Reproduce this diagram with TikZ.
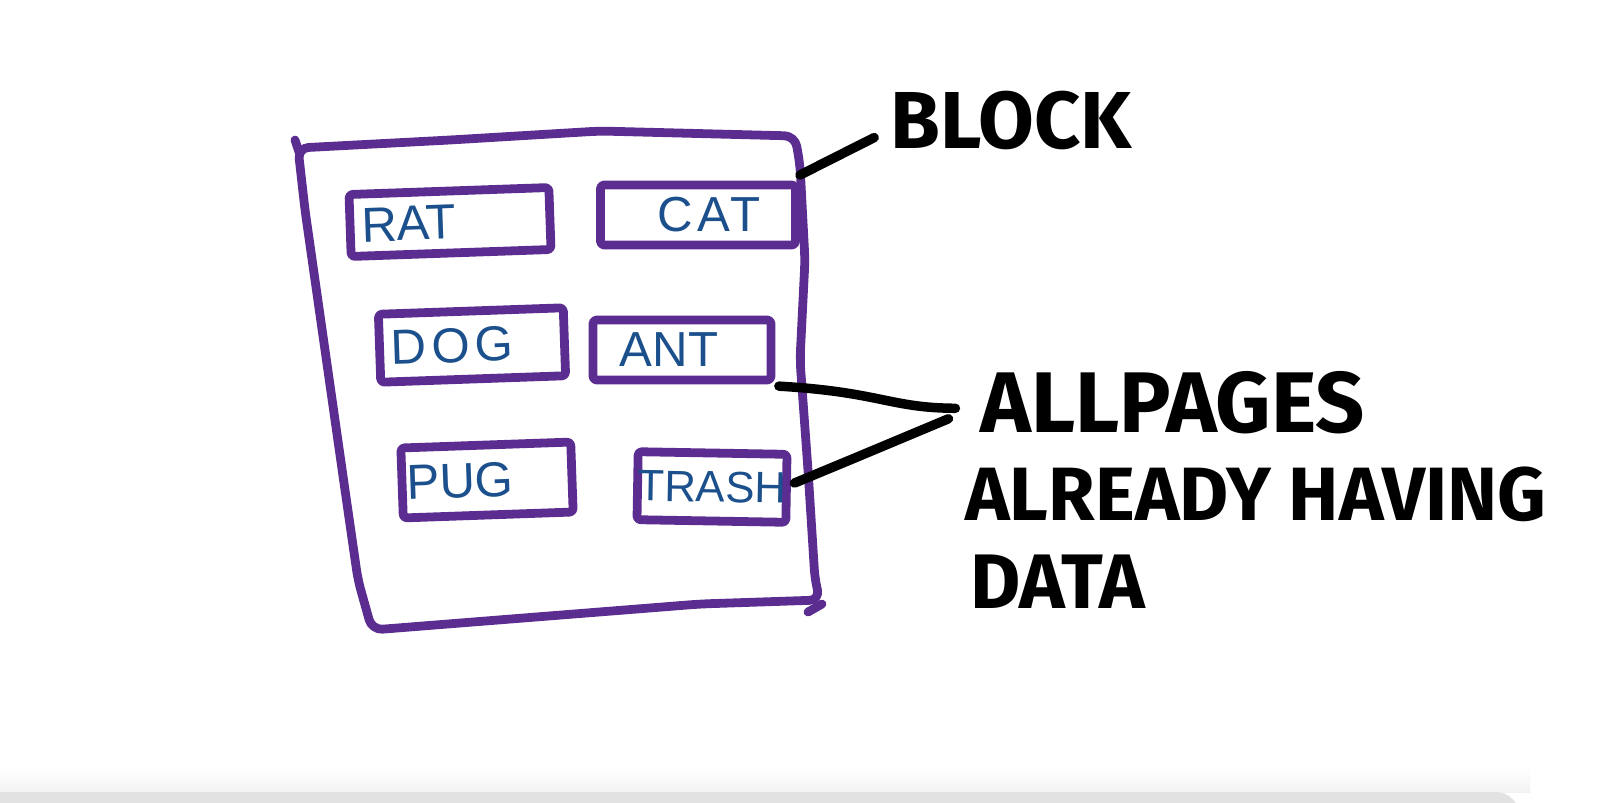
\documentclass[tikz,border=0pt]{standalone}
\usepackage{fontspec}
\setmainfont{Fira Sans}
\newfontfamily\penfont{Liberation Sans}
\usetikzlibrary{arrows.meta,positioning,calc}
\definecolor{inkpurple}{RGB}{91,45,145}
\definecolor{inkblue}{RGB}{28,80,140}
\definecolor{barcol}{RGB}{226,226,226}
\begin{document}
\begin{tikzpicture}[x=0.02cm, y=-0.02cm,
    pen/.style={draw=inkpurple, line width=5pt, line join=round, line cap=round},
    page/.style={pen, rectangle, rounded corners=2pt, inner sep=0pt, minimum height=1.24cm, font=\penfont\fontsize{28}{30}\selectfont, text=inkblue},
    marker/.style={draw=black, line width=5.4pt, line cap=round},
    word/.style={anchor=west, inner sep=0pt, font=\bfseries\fontsize{46}{48}\selectfont}]

    \useasboundingbox (0,0) rectangle (1600,802);

    % Window bar at the bottom
    \shade[top color=white, bottom color=gray!10] (0,768) rectangle (1530,792);
    \fill[barcol, rounded corners=14pt] (-20,792) rectangle (1520,830);

    % Block outline
    \draw[pen, rounded corners=6pt] (298,148) -- (450,140) -- (600,131) -- (795,136)
        -- (800,165) -- (805,260) -- (800,360) -- (808,470) -- (815,580) -- (820,600)
        -- (700,604) -- (372,630) -- (358,580) -- (345,490) -- (325,350) -- (305,210) -- cycle;
    \draw[pen] (295,140) -- (299,152);
    \draw[pen] (808,612) -- (822,604);
    \coordinate (blkedge) at (800,175);

    % Pages inside the block
    \node[page, minimum width=4.0cm, rotate=2] (rat) at (450,222) {RAT\hspace*{1.64cm}};
    \node[page, minimum width=3.9cm, minimum height=1.2cm] (cat) at (698,215) {\hspace*{0.44cm}\addfontfeatures{LetterSpace=8}CAT};
    \node[page, minimum width=3.7cm, minimum height=1.36cm, rotate=2] (dog) at (472,345) {\addfontfeatures{LetterSpace=10}DOG\hspace*{0.8cm}};
    \node[page, minimum width=3.56cm, minimum height=1.2cm] (ant) at (682,350) {ANT\hspace*{0.52cm}};
    \node[page, minimum width=3.4cm, minimum height=1.4cm, rotate=2] (pug) at (487,480) {PUG\hspace*{1.08cm}};
    \node[page, minimum width=2.96cm, minimum height=1.36cm, rotate=-1] (trash) at (712,487) {\fontsize{25}{27}\selectfont TRASH};

    % Labels
    \node[word] (lblock) at (890,120) {BLOCK};
    \node[word, font=\bfseries\fontsize{49}{51}\selectfont] (lpages) at (980,403) {ALLPAGES};
    \node[word, font=\bfseries\fontsize{43}{45}\selectfont] (lhaving) at (965,494) {ALREADY HAVING};
    \node[word, font=\bfseries\fontsize{44}{46}\selectfont] (ldata) at (970,582) {DATA};

    % Pointers
    \draw[marker] (blkedge) -- ($(lblock.west)+(-9pt,-10pt)$);
    \draw[marker] ($(ant.south east)+(2pt,-1pt)$) .. controls (880,392) and (890,408) .. ($(lpages.west)+(-14pt,-3pt)$);
    \draw[marker] ($(trash.east)+(2pt,3pt)$) -- (850,460) -- ($(lpages.west)+(-18pt,-9pt)$);

\end{tikzpicture}
\end{document}
